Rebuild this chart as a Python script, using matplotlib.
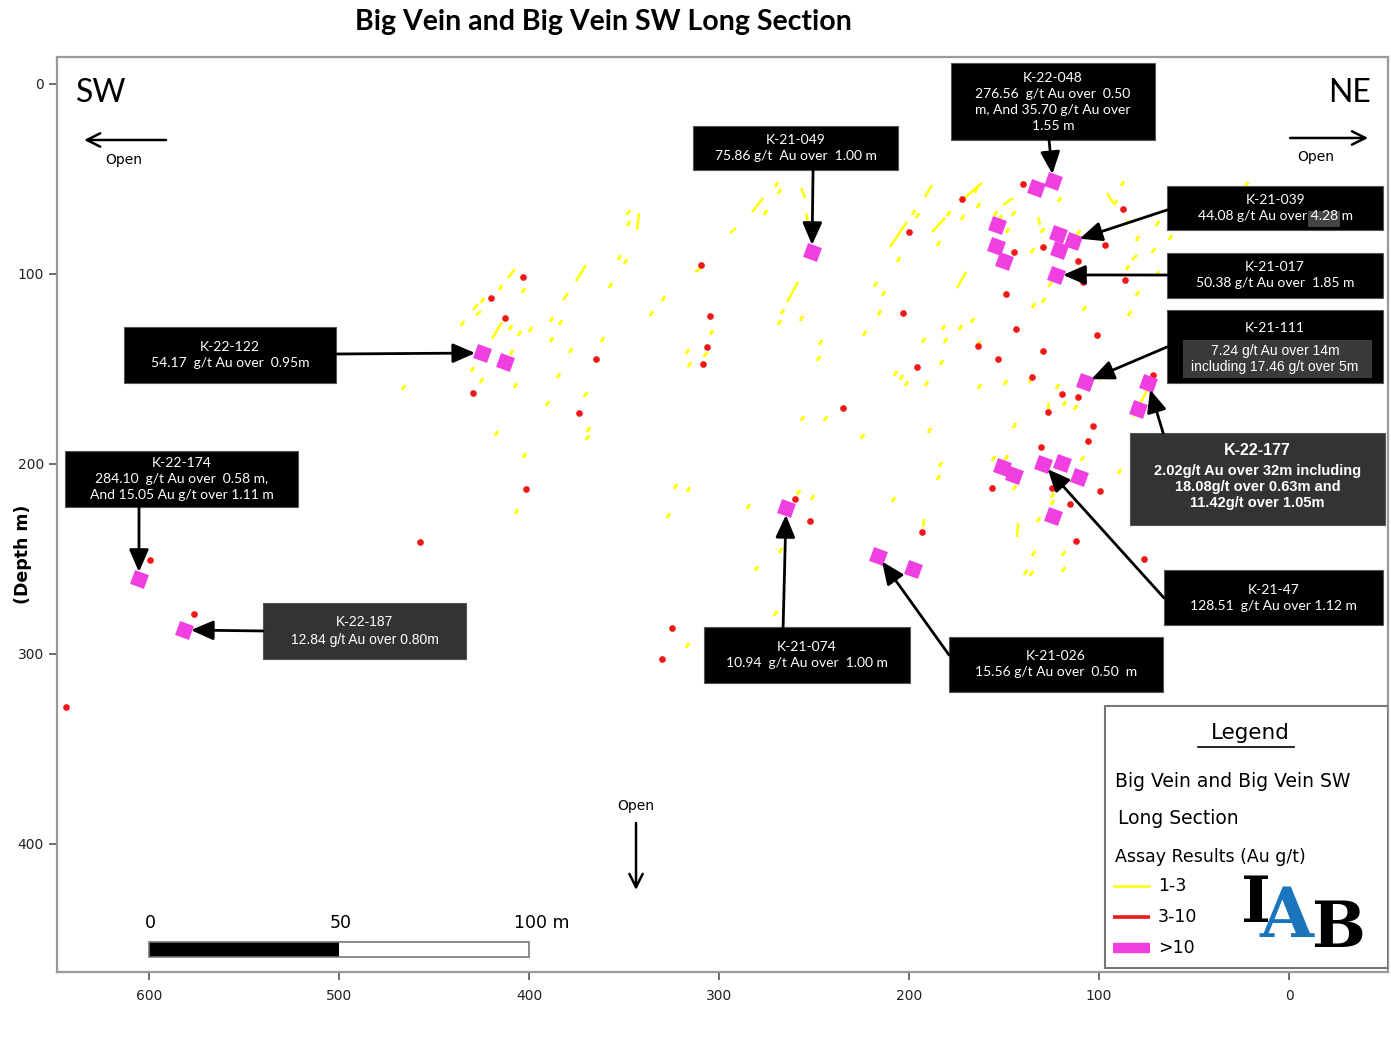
import matplotlib
matplotlib.use('Agg')
import matplotlib.pyplot as plt
from matplotlib.collections import LineCollection
from matplotlib.patches import Rectangle

# ---- assay intercepts on the long section: distance along section (m), depth (m) ----
# 1-3 g/t longer intervals (start / end)
long_x0 = [411.1, 429.5, 427.9, 419.5, 375.3, 382.1, 342.1, 282.6, 294.2, 256.8,
           254.2, 312.6, 258.4, 210.0, 187.9, 191.6, 173.2, 170.0, 150.5, 132.1,
           95.8, 80.0, 126.8, 74.7, 142.6, 163.7, 126.8, 192.1]
long_y0 = [102.1, 118.9, 121.6, 134.2, 103.7, 113.7, 67.9, 67.4, 78.4, 54.7,
           67.9, 98.9, 104.2, 85.8, 77.9, 59.5, 62.1, 98.9, 63.7, 70.0,
           57.4, 90.0, 106.8, 161.1, 231.1, 53.2, 167.4, 228.9]
long_x1 = [407.4, 426.8, 425.3, 414.2, 370.0, 379.5, 343.2, 276.8, 291.1, 254.7,
           251.1, 308.4, 264.2, 201.1, 181.1, 187.9, 161.6, 174.7, 145.3, 131.1,
           92.6, 82.6, 124.7, 82.1, 143.2, 165.3, 126.8, 192.6]
long_y1 = [97.4, 115.8, 119.5, 125.3, 95.3, 110.0, 76.8, 60.0, 75.8, 60.0,
           82.1, 96.3, 114.7, 72.6, 70.5, 53.2, 52.1, 107.4, 60.0, 74.2,
           62.6, 92.6, 104.2, 175.3, 238.4, 57.4, 171.6, 233.2]

# 1-3 g/t short intervals
dot_x = [435.3, 415.3, 424.7, 403.2, 410.0, 405.3, 399.5, 409.5, 430.0, 425.3,
         407.4, 388.4, 383.7, 388.4, 378.4, 361.6, 384.7, 370.5, 390.5, 368.9,
         369.5, 417.4, 402.6, 406.8, 357.4, 352.6, 349.5, 329.5, 335.8, 316.8,
         315.8, 323.2, 316.3, 326.8, 347.9, 347.9, 466.3, 270.0, 268.4, 275.8,
         266.8, 268.4, 256.8, 304.2, 307.4, 246.8, 247.9, 223.7, 217.9, 213.7,
         215.8, 205.8, 197.9, 195.8, 184.7, 179.5, 172.1, 163.7, 182.1, 181.1,
         173.2, 166.8, 192.6, 183.2, 207.4, 204.2, 201.6, 191.1, 163.2, 256.3,
         244.2, 224.7, 189.5, 183.7, 184.7, 208.4, 155.8, 284.7, 258.4, 251.1,
         280.5, 270.5, 316.8, 267.9, 154.7, 148.4, 145.3, 130.0, 121.1, 135.3,
         111.1, 87.9, 91.6, 85.3, 80.0, 71.6, 85.3, 69.5, 62.6, 134.7,
         129.5, 107.9, 84.2, 80.0, 118.4, 122.1, 112.6, 149.5, 136.3, 99.5,
         144.7, 148.9, 108.9, 89.5, 144.7, 124.7, 124.7, 132.1, 134.7, 118.9,
         138.9, 135.8, 118.9, 22.6, 163.7, 152.1, 69.5]
dot_y = [125.8, 106.8, 113.7, 108.4, 127.9, 131.1, 128.9, 141.1, 150.0, 155.8,
         158.4, 123.7, 125.3, 134.2, 140.0, 134.2, 153.2, 163.2, 167.9, 181.6,
         185.8, 183.7, 195.3, 224.7, 105.8, 91.1, 93.2, 112.6, 120.5, 140.5,
         147.4, 211.6, 213.2, 226.8, 67.4, 73.2, 159.5, 52.6, 56.3, 67.4,
         119.5, 125.3, 123.2, 130.5, 142.1, 135.8, 144.2, 131.1, 105.3, 110.0,
         120.0, 92.1, 67.4, 68.9, 83.7, 67.9, 70.0, 63.7, 127.9, 134.7,
         127.9, 124.2, 134.7, 146.3, 152.1, 154.2, 157.4, 157.4, 158.9, 175.8,
         175.8, 185.3, 182.1, 200.0, 206.8, 218.4, 196.8, 222.1, 214.7, 217.4,
         254.7, 278.4, 295.3, 245.3, 67.9, 76.8, 67.9, 76.8, 60.5, 87.4,
         77.9, 52.1, 62.1, 72.6, 81.1, 87.4, 96.3, 99.5, 80.5, 116.3,
         113.7, 117.9, 120.5, 110.0, 167.9, 158.9, 170.0, 156.8, 155.8, 154.2,
         179.5, 196.3, 196.8, 203.7, 212.1, 216.3, 220.0, 228.9, 246.8, 246.8,
         256.8, 257.4, 255.3, 52.6, 136.3, 70.0, 73.2]

# 3-10 g/t intervals
red_x = [643.7, 599.5, 576.3, 457.4, 401.6, 373.7, 324.7, 330.0, 403.2, 420.0,
         412.6, 364.7, 429.5, 309.5, 304.7, 306.3, 308.4, 251.6, 200.0, 172.1,
         203.2, 163.7, 195.8, 234.7, 153.2, 140.0, 87.4, 96.8, 111.1, 129.5,
         144.7, 108.4, 148.9, 143.7, 101.1, 129.5, 135.3, 119.5, 111.1, 71.6,
         86.3, 150.5, 126.8, 103.2, 105.8, 130.5, 156.3, 124.7, 99.5, 115.3,
         112.1, 76.3, 193.2, 260.0, 252.1]
red_y = [327.9, 250.5, 278.9, 241.1, 213.2, 173.2, 286.3, 302.6, 101.6, 112.6,
         123.2, 144.7, 162.6, 95.3, 122.1, 138.4, 147.4, 90.0, 77.9, 60.5,
         120.5, 137.9, 148.9, 170.5, 144.7, 52.6, 65.8, 84.7, 93.2, 85.8,
         88.4, 104.2, 110.5, 128.9, 132.1, 140.5, 154.2, 163.2, 164.7, 153.2,
         103.2, 94.7, 172.6, 180.0, 187.9, 191.1, 212.6, 212.6, 214.2, 221.1,
         240.5, 250.0, 235.8, 218.4, 230.0]

# >10 g/t intervals
mag_x = [605.3, 581.6, 424.7, 412.6, 251.1, 264.7, 216.3, 197.9, 133.2, 124.2,
         153.7, 154.2, 150.0, 121.6, 121.1, 113.7, 122.6, 107.4, 74.2, 79.5,
         151.1, 144.7, 129.5, 119.5, 110.5, 124.2]
mag_y = [260.5, 287.4, 141.6, 146.3, 88.4, 223.2, 248.4, 255.3, 54.7, 51.1,
         74.2, 85.3, 93.2, 78.9, 87.4, 82.6, 100.5, 156.8, 157.4, 171.1,
         201.6, 205.8, 200.0, 199.5, 206.8, 227.4]

# ---- callouts: hole, assay text, index of the >10 g/t intercept it points at ----
hole_ids = ['K-22-048', 'K-21-049', 'K-21-039', 'K-21-017', 'K-21-111', 'K-22-177',
            'K-21-47', 'K-21-026', 'K-21-074', 'K-22-122', 'K-22-174', 'K-22-187']
hole_texts = ['276.56  g/t Au over  0.50\nm, And 35.70 g/t Au over\n1.55 m',
              '75.86 g/t  Au over  1.00 m',
              '44.08 g/t Au over 4.28 m',
              '50.38 g/t Au over  1.85 m',
              '7.24 g/t Au over 14m\nincluding 17.46 g/t over 5m',
              '2.02g/t Au over 32m including\n18.08g/t over 0.63m and\n11.42g/t over 1.05m',
              '128.51  g/t Au over 1.12 m',
              '15.56 g/t Au over  0.50  m',
              '10.94  g/t Au over  1.00 m',
              '54.17  g/t Au over  0.95m',
              '284.10  g/t Au over  0.58 m,\nAnd 15.05 Au g/t over 1.11 m',
              '12.84 g/t Au over 0.80m']
hole_target = [9, 4, 15, 16, 17, 18, 22, 6, 5, 2, 0, 1]

x_ticks = [600, 500, 400, 300, 200, 100, 0]
y_ticks = [0, 100, 200, 300, 400]
legend_labels = ['1-3', '3-10', '>10']

YELLOW = '#ffff00'
RED = '#f01818'
MAGENTA = '#f03fe0'

# ---- layout (axes fraction) ----
box_ext = [(0.6717, 0.9093, 0.8249, 0.9934), (0.4779, 0.8765, 0.6319, 0.9246),
           (0.8340, 0.8109, 0.9962, 0.8590), (0.8340, 0.7366, 0.9962, 0.7858),
           (0.8340, 0.6437, 0.9962, 0.7235), (0.8062, 0.4885, 0.9977, 0.5891),
           (0.8317, 0.3792, 0.9962, 0.4393), (0.6702, 0.3060, 0.8310, 0.3661),
           (0.4861, 0.3158, 0.6409, 0.3770), (0.0503, 0.6437, 0.2096, 0.7049),
           (0.0060, 0.5082, 0.1811, 0.5694), (0.1548, 0.3421, 0.3073, 0.4033)]
box_face = ['black'] * 5 + ['#333333'] + ['black'] * 5 + ['#333333']
arrow_from = [(0.7453, 0.9093), (0.5680, 0.8765), (0.8340, 0.8328), (0.8340, 0.7617),
              (0.8340, 0.6831), (0.8310, 0.5891), (0.8317, 0.4087), (0.6702, 0.3464),
              (0.5455, 0.3770), (0.2096, 0.6754), (0.0616, 0.5082), (0.1548, 0.3727)]

plt.rcParams['font.family'] = ['DejaVu Sans']

fig = plt.figure(figsize=(13.91, 10.44), dpi=100)
ax = fig.add_axes([0.041, 0.069, 0.9569, 0.8764])
ax.set_xlim(648.4, -52.1)
ax.set_ylim(467.4, -14.2)

# intercepts
segs = [[(a, b), (c, d)] for a, b, c, d in zip(long_x0, long_y0, long_x1, long_y1)]
ax.add_collection(LineCollection(segs, colors=YELLOW, linewidths=1.8, zorder=2))
ax.plot(dot_x, dot_y, ls='none', marker=(2, 2, -30), ms=3.8, mew=1.8, mec=YELLOW, zorder=2)
ax.plot(red_x, red_y, ls='none', marker='o', ms=4.8, mfc=RED, mec='none', zorder=3)
ax.plot(mag_x, mag_y, ls='none', marker=(4, 0, 25), ms=15, mfc=MAGENTA, mec='none', zorder=4)

# axes styling
for s in ax.spines.values():
    s.set_color('#9a9a9a')
    s.set_linewidth(1.6)
ax.set_xticks(x_ticks)
ax.set_yticks(y_ticks)
ax.tick_params(direction='out', length=6, width=1.2, color='#555555',
               labelsize=10, labelcolor='#222222')
ax.tick_params(axis='x', pad=6)
ax.set_ylabel('(Depth m)', fontsize=12.5, fontweight='bold')
ax.yaxis.set_label_coords(-0.019, 0.456)

fig.text(0.4335, 0.979, 'Big Vein and Big Vein SW Long Section', ha='center', va='center',
         fontsize=20.5, fontweight='bold', family='Lato')

# direction labels and "Open" arrows
ax.text(0.0143, 0.9607, 'SW', transform=ax.transAxes, fontsize=23, family='Lato',
        ha='left', va='center')
ax.text(0.9872, 0.9607, 'NE', transform=ax.transAxes, fontsize=23, family='Lato',
        ha='right', va='center')
open_arrows = [((0.0819, 0.9093), (0.0203, 0.9093), (0.0503, 0.8874)),
               ((0.9264, 0.9115), (0.9850, 0.9115), (0.9459, 0.8907)),
               ((0.4350, 0.1628), (0.4350, 0.0896), (0.4350, 0.1814))]
for start, end, lab in open_arrows:
    ax.annotate('', xy=end, xytext=start, xycoords='axes fraction', textcoords='axes fraction',
                arrowprops=dict(arrowstyle='->', lw=1.8, color='black', mutation_scale=24,
                                shrinkA=0, shrinkB=0))
    ax.text(lab[0], lab[1], 'Open', transform=ax.transAxes, fontsize=10, ha='center', va='center')

# scale bar (100 m)
ax.add_patch(Rectangle((600, 451.6), -200, 7.9, facecolor='white', edgecolor='none', zorder=3))
ax.add_patch(Rectangle((600, 451.6), -100, 7.9, facecolor='black', edgecolor='none', zorder=3))
ax.add_patch(Rectangle((600, 451.6), -200, 7.9, facecolor='none', edgecolor='#777777', lw=1.2, zorder=4))
for xv, lab in [(599.5, '0'), (498.9, '50'), (393.2, '100 m')]:
    ax.text(xv, 446.5, lab, fontsize=12.5, ha='center', va='bottom')

# callout boxes
for i, hid in enumerate(hole_ids):
    x0, y0, x1, y1 = box_ext[i]
    ax.add_patch(Rectangle((x0, y0), x1 - x0, y1 - y0, transform=ax.transAxes,
                           facecolor=box_face[i], edgecolor='#555555', lw=0.8,
                           zorder=6, clip_on=False))
    cx = (x0 + x1) / 2
    cy = (y0 + y1) / 2
    if hid == 'K-21-111':
        ax.add_patch(Rectangle((0.8460, 0.6492), 0.9880 - 0.8460, 0.6907 - 0.6492,
                               transform=ax.transAxes, facecolor='#3a3a3a', lw=0, zorder=6.5))
        ax.text(cx, 0.7038, hid, transform=ax.transAxes, color='white', fontsize=10,
                ha='center', va='center', family='Lato', zorder=7)
        ax.text(cx, 0.6700, hole_texts[i], transform=ax.transAxes, color='white',
                fontsize=10, ha='center', va='center', family='Liberation Sans',
                linespacing=1.15, zorder=7)
    elif hid == 'K-22-177':
        ax.text(cx, 0.5694, hid, transform=ax.transAxes, color='white', fontsize=11.5,
                ha='center', va='center', family='Liberation Sans', fontweight='bold', zorder=7)
        ax.text(cx, 0.5301, hole_texts[i], transform=ax.transAxes, color='white',
                fontsize=10.5, ha='center', va='center', family='Liberation Sans',
                fontweight='bold', linespacing=1.2, zorder=7)
    else:
        if hid == 'K-21-039':
            ax.add_patch(Rectangle((0.9399, 0.8142), 0.0240, 0.0175, transform=ax.transAxes,
                                   facecolor='#444444', lw=0, zorder=6.5))
        fam = 'Liberation Sans' if hid == 'K-22-187' else 'Lato'
        ax.text(cx, cy, hid + '\n' + hole_texts[i], transform=ax.transAxes, color='white',
                fontsize=10, ha='center', va='center', family=fam, linespacing=1.4, zorder=7)
    t = hole_target[i]
    ax.annotate('', xy=(mag_x[t], mag_y[t]), xycoords='data',
                xytext=arrow_from[i], textcoords='axes fraction',
                arrowprops=dict(arrowstyle='-|>,head_length=0.8,head_width=0.35', color='black',
                                lw=2, mutation_scale=17, shrinkA=0, shrinkB=5), zorder=7)

# legend panel
ax.add_patch(Rectangle((0.7874, 0.0044), 0.2126, 0.2863, transform=ax.transAxes,
                       facecolor='white', edgecolor='#777777', lw=1.5, zorder=8))
ax.text(0.8963, 0.2612, 'Legend', transform=ax.transAxes, fontsize=15.5, ha='center',
        va='center', zorder=9)
ax.plot([0.8569, 0.9290], [0.2460, 0.2460], transform=ax.transAxes, color='black', lw=1.2, zorder=9)
ax.text(0.7949, 0.2087, 'Big Vein and Big Vein SW', transform=ax.transAxes, fontsize=13.5,
        ha='left', va='center', zorder=9)
ax.text(0.7971, 0.1672, 'Long Section', transform=ax.transAxes, fontsize=13.5,
        ha='left', va='center', zorder=9)
ax.text(0.7949, 0.1257, 'Assay Results (Au g/t)', transform=ax.transAxes, fontsize=12.5,
        ha='left', va='center', zorder=9)
leg_y = [0.0940, 0.0601, 0.0262]
leg_style = [(YELLOW, 1.8), (RED, 2.6), (MAGENTA, 7.5)]
for lab, yy, (col, lw) in zip(legend_labels, leg_y, leg_style):
    ax.plot([0.7934, 0.8212], [yy, yy], transform=ax.transAxes, color=col, lw=lw,
            solid_capstyle='butt', zorder=9)
    ax.text(0.8272, yy, lab, transform=ax.transAxes, fontsize=12.5, ha='left', va='center', zorder=9)

# IAB logo
ax.text(0.9008, 0.0546, 'I', transform=ax.transAxes, fontsize=46, family='DejaVu Serif',
        fontweight='bold', ha='center', va='baseline', color='black', zorder=9)
ax.text(0.9624, 0.0273, 'B', transform=ax.transAxes, fontsize=46, family='DejaVu Serif',
        fontweight='bold', ha='center', va='baseline', color='black', zorder=9)
ax.text(0.9240, 0.0383, 'A', transform=ax.transAxes, fontsize=50, family='DejaVu Serif',
        fontweight='bold', ha='center', va='baseline', color='#1a75bc', zorder=10)

fig.savefig('out.png', dpi=100, facecolor='white')
